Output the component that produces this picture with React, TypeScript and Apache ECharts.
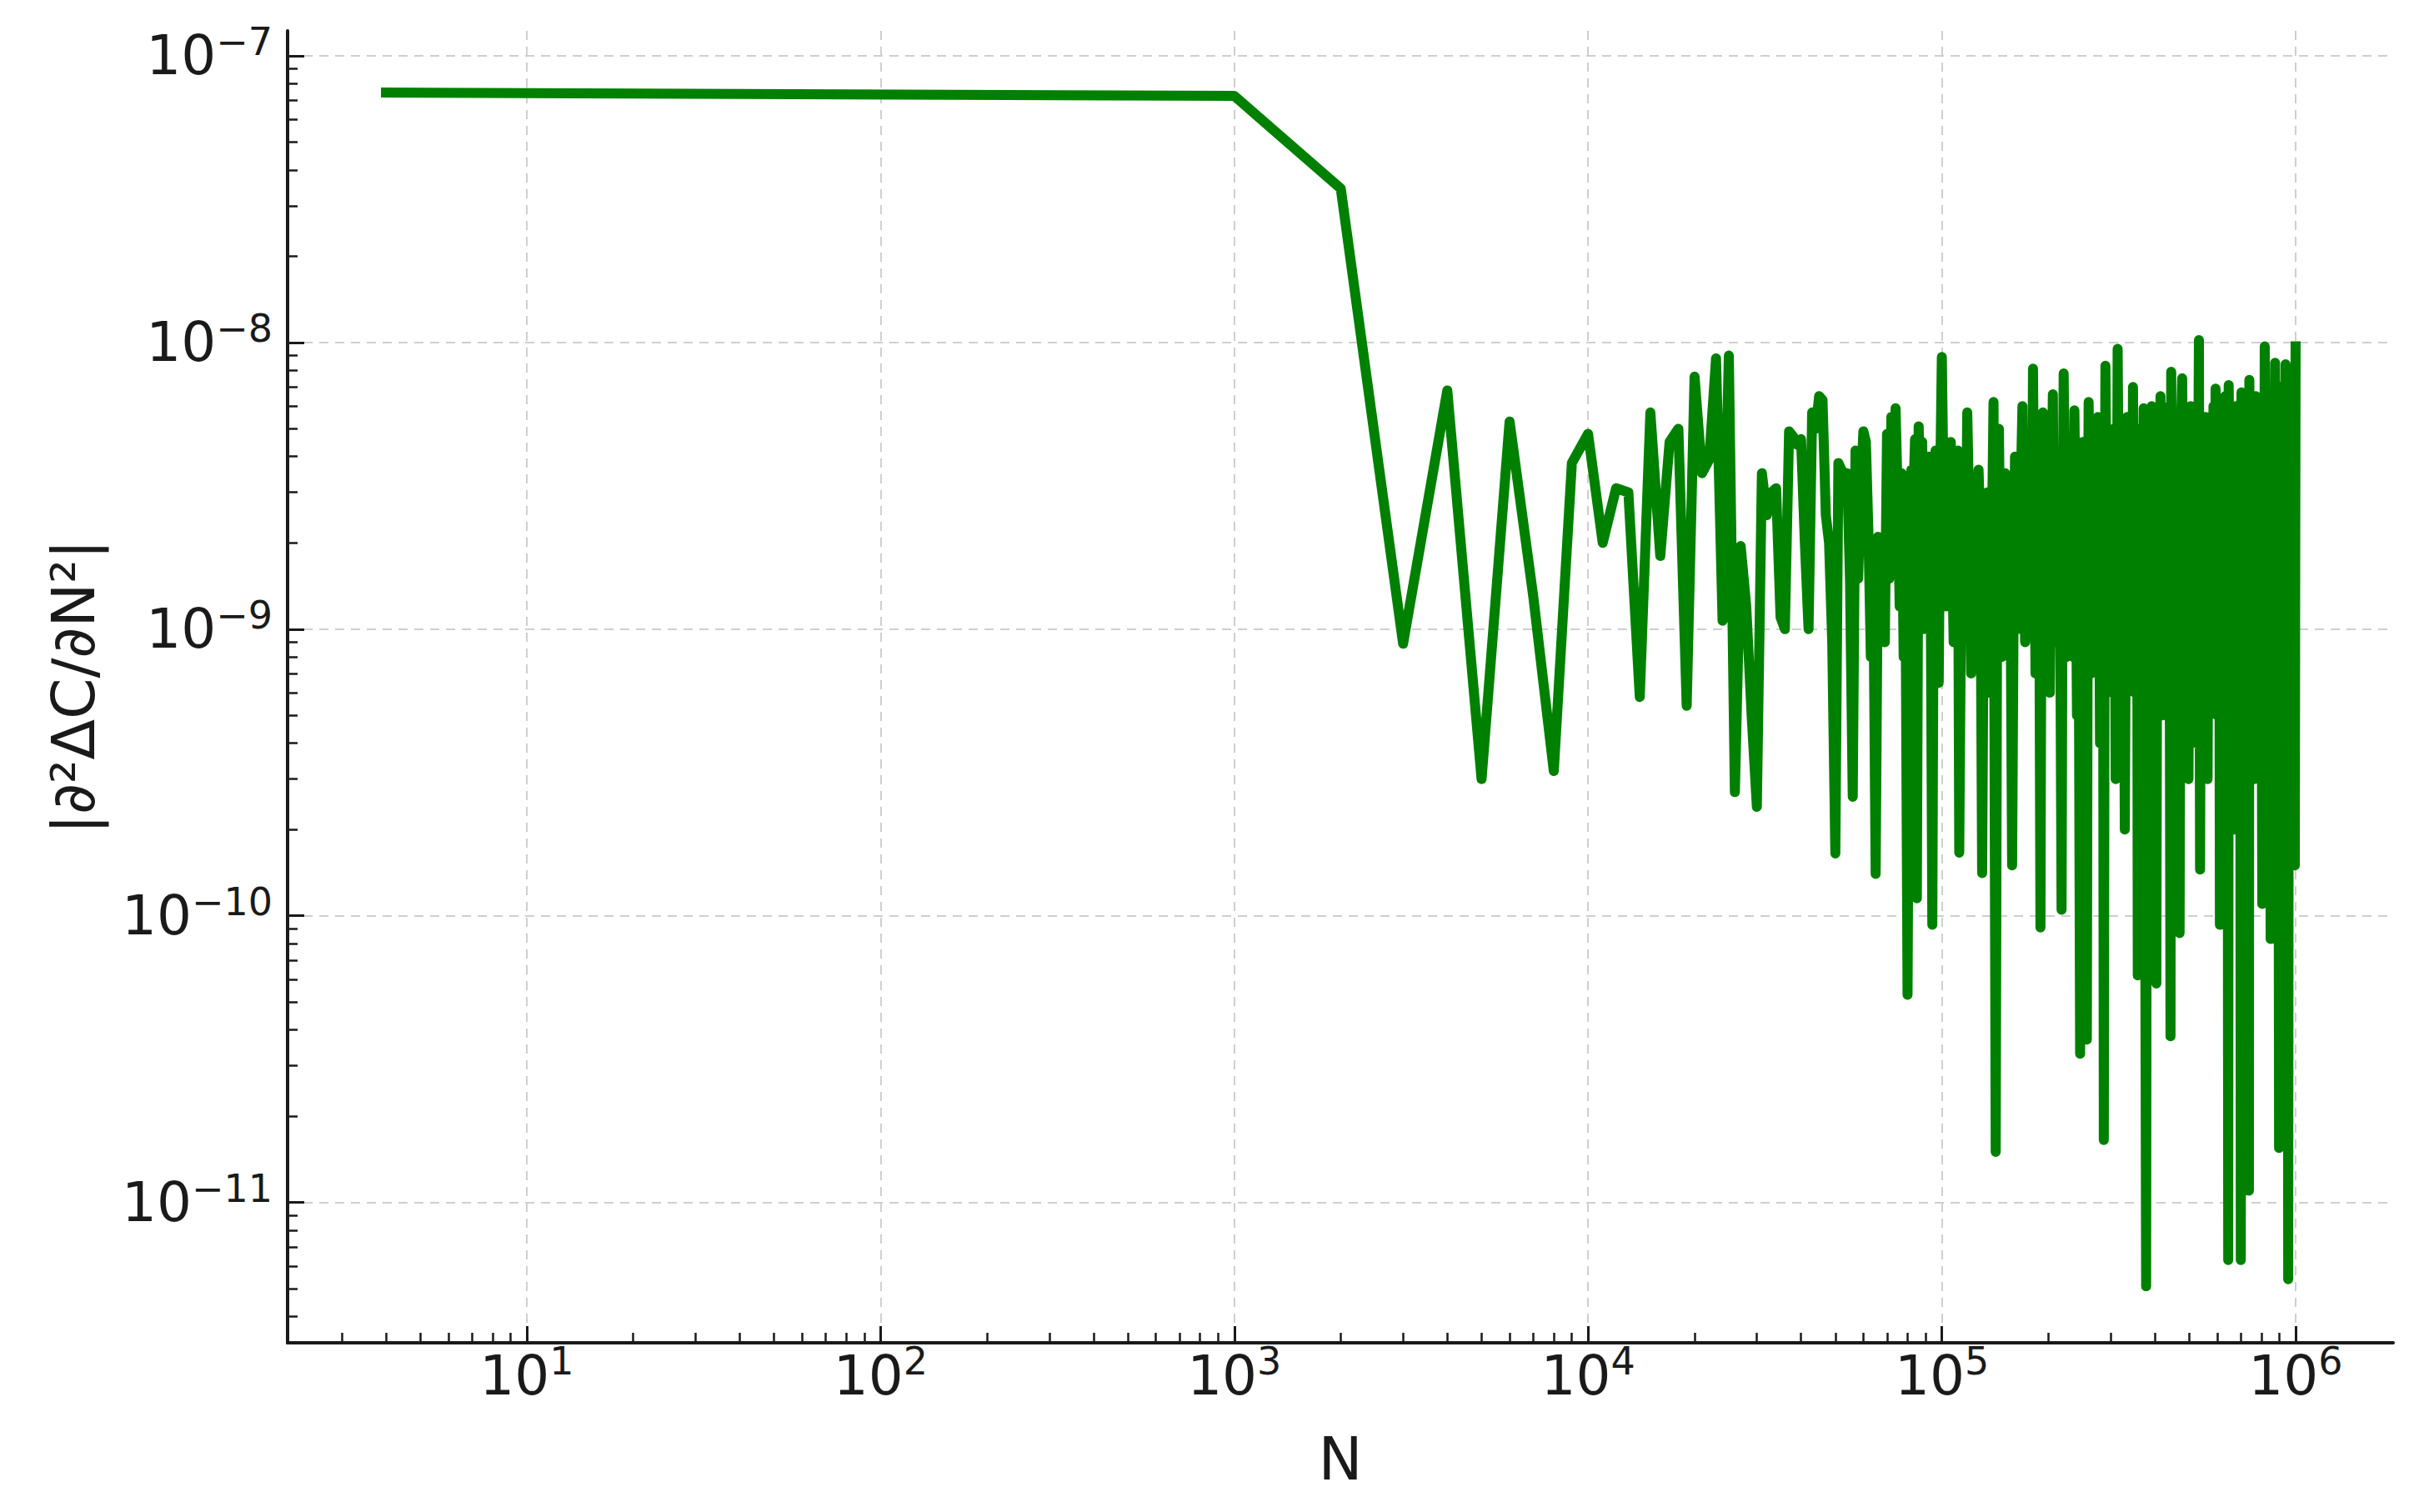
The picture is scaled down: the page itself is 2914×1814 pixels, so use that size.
import React, { useEffect, useRef } from "react";
import * as echarts from "echarts";

// ---------- data ----------
// plateau + early region (N = 4, then every 1000 up to 30000)
const N_EARLY = [
  4, 1000, 2000, 3000, 4000, 5000, 6000, 7000, 8000, 9000,
  10000, 11000, 12000, 13000, 14000, 15000, 16000, 17000, 18000, 19000,
  20000, 21000, 22000, 23000, 24000, 25000, 26000, 27000, 28000, 29000,
  30000,
];
const V_EARLY = [
  7.44e-8, 7.25e-8, 3.44e-8, 8.9e-10, 6.8e-9, 3.0e-10, 5.3e-9, 1.3e-9, 3.2e-10, 3.8e-9,
  4.8e-9, 2.0e-9, 3.1e-9, 3.0e-9, 5.8e-10, 5.7e-9, 1.8e-9, 4.5e-9, 5.0e-9, 5.4e-10,
  7.6e-9, 3.5e-9, 3.9e-9, 8.8e-9, 1.07e-9, 9.0e-9, 2.7e-10, 1.95e-9, 1.2e-9, 5.0e-10,
  2.4e-10,
];

// middle region (31000 .. 100000)
const N_MID = [
  31000, 32000, 33000, 34000, 35000, 36000, 37000, 38000, 39000, 40000,
  41000, 42000, 43000, 44000, 45000, 46000, 47000, 48000, 49000, 50000,
  51000, 52000, 53000, 54000, 55000, 56000, 57000, 58000, 59000, 60000,
  61000, 62000, 63000, 64000, 65000, 66000, 67000, 68000, 69000, 70000,
  71000, 72000, 73000, 74000, 75000, 76000, 77000, 78000, 79000, 80000,
  81000, 82000, 83000, 84000, 85000, 86000, 87000, 88000, 89000, 90000,
  91000, 92000, 93000, 94000, 95000, 96000, 97000, 98000, 99000, 100000,
];
const V_MID = [
  3.5e-9, 2.5e-9, 3.0e-9, 3.1e-9, 1.1e-9, 1.0e-9, 4.9e-9, 4.7e-9, 4.4e-9, 4.6e-9,
  2.0e-9, 1.0e-9, 5.7e-9, 5.0e-9, 6.5e-9, 6.3e-9, 2.5e-9, 2.0e-9, 9.0e-10, 1.65e-10,
  3.8e-9, 3.6e-9, 3.5e-9, 3.5e-9, 1.5e-9, 2.6e-10, 4.2e-9, 1.5e-9, 3.0e-9, 4.9e-9,
  4.5e-9, 2.2e-9, 8.0e-10, 1.6e-9, 1.4e-10, 2.1e-9, 1.6e-9, 2.0e-9, 9.0e-10, 4.8e-9,
  1.5e-9, 5.5e-9, 2.0e-9, 5.9e-9, 3.0e-9, 1.2e-9, 3.5e-9, 8.0e-10, 1.2e-9, 5.3e-11,
  1.3e-9, 3.6e-9, 2.8e-9, 4.6e-9, 1.15e-10, 5.1e-9, 3.0e-9, 4.5e-9, 1.0e-9, 3.2e-9,
  2.5e-9, 4.0e-9, 1.5e-9, 9.3e-11, 3.0e-9, 4.2e-9, 2.8e-9, 6.5e-10, 3.5e-9, 8.9e-9,
];

// dense region (100000 .. 1000000): peaks and troughs
const N_DENSE = [
  103000, 106000, 108000, 111000, 112000, 115000, 118000, 121000, 124000, 127000,
  130000, 133000, 136000, 140000, 142000, 145000, 148000, 151000, 154000, 158000,
  161000, 164000, 167000, 169000, 172000, 175000, 178000, 181000, 184000, 187000,
  190000, 193000, 196000, 199000, 202000, 206000, 210000, 214000, 218000, 221000,
  225000, 229000, 233000, 237000, 241000, 246000, 250000, 254000, 257000, 260000,
  264000, 268000, 272000, 276000, 280000, 284000, 287000, 290000, 294000, 298000,
  302000, 306000, 310000, 314000, 319000, 324000, 329000, 334000, 339000, 343000,
  347000, 351000, 355000, 358000, 362000, 367000, 372000, 375000, 378000, 382000,
  387000, 392000, 397000, 404000, 409000, 415000, 420000, 426000, 432000, 437000,
  443000, 445000, 451000, 457000, 463000, 470000, 475000, 478000, 485000, 492000,
  498000, 505000, 512000, 518000, 525000, 530000, 533000, 537000, 543000, 550000,
  557000, 564000, 571000, 578000, 586000, 594000, 600000, 606000, 611000, 618000,
  625000, 632000, 640000, 645000, 647000, 655000, 662000, 670000, 678000, 686000,
  694000, 700000, 703000, 710000, 718000, 725000, 731000, 738000, 740000, 748000,
  756000, 764000, 772000, 780000, 788000, 797000, 805000, 812000, 818000, 826000,
  834000, 842000, 850000, 858000, 866000, 875000, 883000, 890000, 898000, 906000,
  914000, 922000, 930000, 937000, 945000, 953000, 960000, 968000, 976000, 984000,
  990000, 995000, 1000000,
];
const V_DENSE = [
  1.2e-9, 4.5e-9, 9.0e-10, 4.2e-9, 1.66e-10, 3.0e-9, 5.7e-9, 7.0e-10, 3.3e-9, 3.6e-9,
  1.41e-10, 2.8e-9, 6.0e-10, 6.2e-9, 1.5e-11, 5.0e-9, 8.0e-10, 3.5e-9, 1.2e-9, 1.5e-10,
  4.0e-9, 1.0e-9, 3.0e-9, 6.0e-9, 9.0e-10, 4.5e-9, 1.5e-9, 8.1e-9, 7.0e-10, 3.8e-9,
  9.1e-11, 5.7e-9, 1.3e-9, 3.5e-9, 6.0e-10, 6.6e-9, 1.1e-9, 4.0e-9, 1.05e-10, 7.8e-9,
  8.0e-10, 3.2e-9, 1.5e-9, 5.8e-9, 5.0e-10, 3.3e-11, 4.5e-9, 1.0e-9, 3.7e-11, 6.2e-9,
  7.0e-10, 4.0e-9, 1.2e-9, 5.5e-9, 4.0e-10, 3.8e-9, 1.65e-11, 8.3e-9, 6.0e-10, 4.5e-9,
  1.1e-9, 5.0e-9, 3.0e-10, 9.5e-9, 8.0e-10, 4.2e-9, 2.0e-10, 5.5e-9, 1.0e-9, 3.5e-9,
  7.0e-9, 6.0e-10, 4.0e-9, 6.2e-11, 5.0e-9, 9.0e-10, 5.9e-9, 3.0e-10, 5.1e-12, 4.5e-9,
  1.2e-9, 6.0e-9, 2.5e-10, 5.8e-11, 5.5e-9, 6.5e-9, 5.0e-10, 4.0e-9, 1.5e-9, 6.0e-9,
  3.8e-11, 7.9e-9, 6.0e-10, 4.5e-9, 2.0e-10, 8.7e-11, 5.5e-9, 7.5e-9, 9.0e-10, 4.5e-9,
  3.0e-10, 6.0e-9, 1.2e-9, 5.0e-9, 4.0e-10, 3.0e-9, 1.02e-8, 1.45e-10, 3.5e-9, 8.0e-10,
  5.5e-9, 3.0e-10, 4.5e-9, 1.1e-9, 6.0e-9, 6.9e-9, 5.0e-10, 4.0e-9, 9.3e-11, 5.5e-9,
  1.5e-9, 6.5e-9, 3.0e-10, 6.3e-12, 7.1e-9, 8.0e-10, 5.0e-9, 2.0e-10, 6.0e-9, 1.0e-9,
  4.5e-9, 6.3e-12, 6.7e-9, 6.0e-10, 5.0e-9, 2.5e-10, 5.5e-9, 1.1e-11, 7.4e-9, 9.0e-10,
  5.0e-9, 3.0e-10, 6.5e-9, 1.2e-9, 5.5e-9, 4.0e-10, 1.1e-10, 6.0e-9, 9.7e-9, 7.0e-10,
  5.5e-9, 2.0e-10, 8.3e-11, 6.5e-9, 1.0e-9, 8.5e-9, 4.0e-10, 6.0e-9, 1.55e-11, 7.0e-9,
  8.0e-10, 6.5e-9, 3.0e-10, 8.4e-9, 1.2e-9, 5.4e-12, 7.0e-9, 6.0e-10, 7.5e-9, 2.0e-10,
  6.0e-9, 1.5e-10, 9.7e-9,
];

// dense region: in-between points of the solid band (1e-9 .. 3e-9)
const N_BAND = [
  101500, 104500, 107000, 109500, 113500, 116500, 119500, 122500, 125500, 128500,
  131500, 134500, 138000, 143500, 146500, 149500, 152500, 156000, 159500, 162500,
  165500, 170500, 173500, 176500, 179500, 182500, 185500, 188500, 191500, 194500,
  197500, 200500, 204000, 208000, 212000, 216000, 219500, 223000, 227000, 231000,
  235000, 239000, 243500, 248000, 252000, 255500, 258500, 262000, 266000, 270000,
  274000, 278000, 282000, 285500, 288500, 292000, 296000, 300000, 304000, 308000,
  312000, 316500, 321500, 326500, 331500, 336500, 341000, 345000, 349000, 353000,
  356500, 360000, 364500, 369500, 373500, 380000, 384500, 389500, 394500, 400500,
  406500, 412000, 417500, 423000, 429000, 434500, 440000, 448000, 454000, 460000,
  466500, 472500, 481500, 488500, 495000, 501500, 508500, 515000, 521500, 527500,
  540000, 546500, 553500, 560500, 567500, 574500, 582000, 590000, 597000, 603000,
  608500, 614500, 621500, 628500, 636000, 642500, 651000, 658500, 666000, 674000,
  682000, 690000, 697000, 706500, 714000, 721500, 728000, 734500, 744000, 752000,
  760000, 768000, 776000, 784000, 792500, 801000, 808500, 815000, 822000, 830000,
  838000, 846000, 854000, 862000, 870500, 879000, 886500, 894000, 902000, 910000,
  918000, 926000, 933500, 941000, 949000, 956500, 964000, 972000, 980000, 987000,
  992500, 997500,
];
const V_BAND = [
  2.2e-9, 2.0e-9, 1.8e-9, 2.5e-9, 1.6e-9, 1.2e-9, 2.6e-9, 1.9e-9, 1.3e-9, 2.2e-9,
  1.7e-9, 3.0e-9, 1.4e-9, 2.4e-9, 1.5e-9, 2.8e-9, 2.0e-9, 2.5e-9, 1.1e-9, 2.4e-9,
  1.6e-9, 2.0e-9, 1.2e-9, 2.7e-9, 1.0e-9, 2.3e-9, 1.4e-9, 1.8e-9, 2.6e-9, 1.0e-9,
  2.2e-9, 1.5e-9, 2.8e-9, 9.0e-10, 2.4e-9, 1.3e-9, 2.0e-9, 2.5e-9, 1.1e-9, 2.9e-9,
  8.0e-10, 2.2e-9, 1.6e-9, 2.4e-9, 1.3e-9, 2.6e-9, 1.5e-9, 2.1e-9, 9.0e-10, 2.6e-9,
  1.0e-9, 2.3e-9, 1.4e-9, 2.0e-9, 1.2e-9, 2.7e-9, 1.0e-9, 2.4e-9, 1.6e-9, 2.2e-9,
  1.1e-9, 2.5e-9, 1.2e-9, 2.0e-9, 1.4e-9, 2.6e-9, 1.8e-9, 1.1e-9, 2.3e-9, 1.5e-9,
  2.6e-9, 1.0e-9, 2.2e-9, 1.5e-9, 2.4e-9, 1.3e-9, 2.8e-9, 9.0e-10, 2.0e-9, 1.5e-9,
  2.3e-9, 1.2e-9, 2.5e-9, 1.0e-9, 2.7e-9, 1.1e-9, 2.4e-9, 1.6e-9, 2.2e-9, 1.0e-9,
  2.6e-9, 1.3e-9, 2.4e-9, 1.2e-9, 2.0e-9, 1.6e-9, 2.7e-9, 9.0e-10, 2.3e-9, 1.5e-9,
  2.2e-9, 1.0e-9, 2.5e-9, 1.4e-9, 2.1e-9, 7.0e-10, 2.6e-9, 1.3e-9, 2.4e-9, 1.0e-9,
  2.0e-9, 1.6e-9, 2.6e-9, 9.0e-10, 2.2e-9, 1.4e-9, 2.5e-9, 1.1e-9, 2.3e-9, 1.0e-9,
  2.7e-9, 1.2e-9, 2.0e-9, 1.5e-9, 2.4e-9, 8.0e-10, 2.2e-9, 1.3e-9, 2.6e-9, 1.0e-9,
  2.3e-9, 1.4e-9, 2.5e-9, 9.0e-10, 2.2e-9, 1.5e-9, 2.4e-9, 1.2e-9, 2.6e-9, 1.0e-9,
  2.3e-9, 1.4e-9, 2.0e-9, 1.1e-9, 2.6e-9, 1.3e-9, 2.2e-9, 1.0e-9, 2.5e-9, 1.5e-9,
  2.1e-9, 1.2e-9, 2.7e-9, 1.0e-9, 2.3e-9, 1.4e-9, 2.5e-9, 1.1e-9, 2.4e-9, 1.3e-9,
  2.2e-9, 1.6e-9,
];

const N_VALUES = [...N_EARLY, ...N_MID, ...N_DENSE, ...N_BAND];
const D2_VALUES = [...V_EARLY, ...V_MID, ...V_DENSE, ...V_BAND];

// axes
const X_RANGE = [2.108, 1.887e6];
const Y_RANGE = [3.24e-12, 1.222e-7];
const X_MAJOR_TICKS = [1e1, 1e2, 1e3, 1e4, 1e5, 1e6];
const Y_MAJOR_TICKS = [1e-11, 1e-10, 1e-9, 1e-8, 1e-7];
const X_DECADES = [1, 1e1, 1e2, 1e3, 1e4, 1e5, 1e6];
const Y_DECADES = [1e-12, 1e-11, 1e-10, 1e-9, 1e-8, 1e-7];
const MINOR_MULTIPLIERS = [2, 3, 4, 5, 6, 7, 8, 9];
const X_TITLE = "N";
const Y_TITLE = "|\u2202\u00B2\u0394C/\u2202N\u00B2|";

const FONT = "DejaVu Sans";
const INK = "#1a1a1a";
const GRID = "#cfcfcf";
const LINE_COLOR = "#008000";

function minorTicks(decades: number[], range: number[]) {
  const out: number[] = [];
  decades.forEach((d) => {
    MINOR_MULTIPLIERS.forEach((m) => {
      const v = m * d;
      if (v > range[0] && v < range[1]) out.push(v);
    });
  });
  return out;
}

function powLabel(v: number) {
  const e = Math.round(Math.log10(v));
  const s = e < 0 ? "\u2212" + Math.abs(e) : String(e);
  return "{b|10}{s|" + s + "}";
}

const rich = {
  b: {
    fontSize: 66,
    lineHeight: 66,
    fontFamily: FONT,
    color: INK,
    verticalAlign: "bottom",
  },
  s: {
    fontSize: 46,
    lineHeight: 46,
    fontFamily: FONT,
    color: INK,
    verticalAlign: "bottom",
    padding: [0, 0, 27, 0],
  },
};

export default function App() {
  const ref = useRef<HTMLDivElement>(null);

  useEffect(() => {
    if (!ref.current) return;
    const chart = echarts.init(ref.current, null, { renderer: "svg" });
    const data = N_VALUES.map((n, i) => [n, D2_VALUES[i]]).sort(
      (a, b) => a[0] - b[0]
    );
    const xMinor = minorTicks(X_DECADES, X_RANGE);
    const yMinor = minorTicks(Y_DECADES, Y_RANGE);

    const splitLine = {
      show: true,
      lineStyle: { color: GRID, width: 2, type: [11, 8] },
    };

    chart.setOption({
      animation: false,
      backgroundColor: "#ffffff",
      grid: {
        left: 345,
        right: 43,
        top: 37,
        bottom: 203,
        containLabel: false,
        outerBoundsMode: "none",
      },
      xAxis: [
        {
          type: "log",
          logBase: 10,
          min: X_RANGE[0],
          max: X_RANGE[1],
          position: "bottom",
          axisLine: { show: true, lineStyle: { color: INK, width: 4 } },
          axisTick: {
            show: true,
            inside: true,
            length: 20,
            customValues: X_MAJOR_TICKS,
            lineStyle: { color: INK, width: 3 },
          },
          axisLabel: {
            show: true,
            margin: 6,
            customValues: X_MAJOR_TICKS,
            formatter: powLabel,
            rich,
          },
          splitLine,
          minorTick: { show: false },
          minorSplitLine: { show: false },
          name: X_TITLE,
          nameLocation: "middle",
          nameGap: 104,
          nameTextStyle: {
            fontSize: 71,
            lineHeight: 71,
            fontFamily: FONT,
            color: INK,
          },
        },
        {
          type: "log",
          logBase: 10,
          min: X_RANGE[0],
          max: X_RANGE[1],
          position: "bottom",
          gridIndex: 0,
          axisLine: { show: false },
          axisTick: {
            show: true,
            inside: true,
            length: 12,
            customValues: xMinor,
            lineStyle: { color: INK, width: 2.5 },
          },
          axisLabel: { show: false },
          splitLine: { show: false },
        },
      ],
      yAxis: [
        {
          type: "log",
          logBase: 10,
          min: Y_RANGE[0],
          max: Y_RANGE[1],
          position: "left",
          axisLine: { show: true, lineStyle: { color: INK, width: 4 } },
          axisTick: {
            show: true,
            inside: true,
            length: 20,
            customValues: Y_MAJOR_TICKS,
            lineStyle: { color: INK, width: 3 },
          },
          axisLabel: {
            show: true,
            margin: 18,
            customValues: Y_MAJOR_TICKS,
            formatter: powLabel,
            rich,
          },
          splitLine,
          minorTick: { show: false },
          minorSplitLine: { show: false },
          name: Y_TITLE,
          nameLocation: "middle",
          nameRotate: 90,
          nameGap: 221,
          nameTextStyle: {
            fontSize: 71,
            lineHeight: 71,
            fontFamily: FONT,
            color: INK,
          },
        },
        {
          type: "log",
          logBase: 10,
          min: Y_RANGE[0],
          max: Y_RANGE[1],
          position: "left",
          gridIndex: 0,
          axisLine: { show: false },
          axisTick: {
            show: true,
            inside: true,
            length: 12,
            customValues: yMinor,
            lineStyle: { color: INK, width: 2.5 },
          },
          axisLabel: { show: false },
          splitLine: { show: false },
        },
      ],
      series: [
        {
          type: "line",
          xAxisIndex: 0,
          yAxisIndex: 0,
          data,
          showSymbol: false,
          symbol: "none",
          silent: true,
          clip: true,
          lineStyle: {
            color: LINE_COLOR,
            width: 12,
            cap: "square",
            join: "round",
          },
          itemStyle: { color: LINE_COLOR },
        },
      ],
    });

    return () => chart.dispose();
  }, []);

  return (
    <div
      ref={ref}
      style={{
        position: "fixed",
        left: 0,
        top: 0,
        width: 2914,
        height: 1814,
        background: "#ffffff",
      }}
    />
  );
}
